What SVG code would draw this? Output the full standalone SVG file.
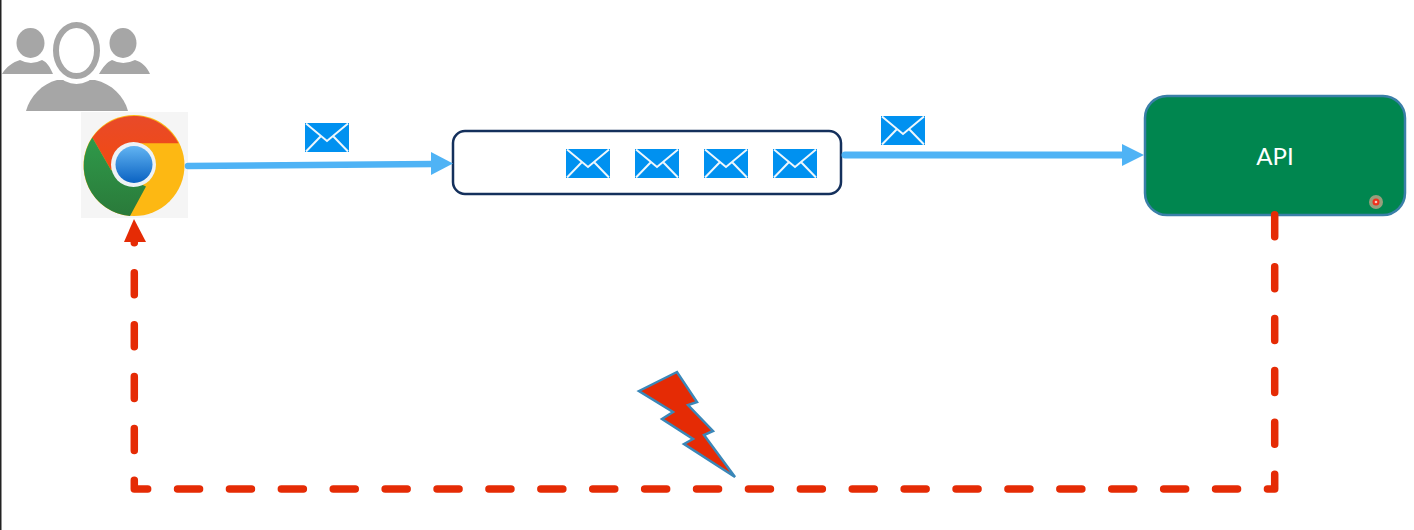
<svg xmlns="http://www.w3.org/2000/svg" width="1414" height="530" viewBox="0 0 1414 530">
<style>
.user{fill:#a6a6a6}
.flow{fill:none;stroke:#4fb3f5;stroke-linecap:round}
.head{fill:#4fb3f5}
.fail{fill:none;stroke:#e52b05;stroke-width:7.500;stroke-linecap:round;stroke-linejoin:round;stroke-dasharray:22 29.900}
</style>
<defs>
<filter id="soft" x="-5%" y="-5%" width="110%" height="110%"><feGaussianBlur stdDeviation="0.700"/></filter>
<linearGradient id="blue" x1="0" y1="0" x2="0" y2="1"><stop offset="0" stop-color="#62b4f2"/><stop offset="1" stop-color="#0a62c2"/></linearGradient>
<linearGradient id="red" x1="0" y1="0" x2="0" y2="1"><stop offset="0" stop-color="#e84a2a"/><stop offset="1" stop-color="#f24a10"/></linearGradient>
<linearGradient id="green" x1="0" y1="0" x2="0" y2="1"><stop offset="0" stop-color="#2f9a4a"/><stop offset="1" stop-color="#2a7a3a"/></linearGradient>
<g id="env">
<rect x="0" y="0" width="44" height="29" fill="#0091f0"/>
<path d="M1 0.500L22 18L43 0.500M1 28.500L16 13M43 28.500L28 13" fill="none" stroke="#eef7fd" stroke-width="2"/>
</g>
</defs>
<rect width="1414" height="530" fill="#fff"/>
<rect x="0" y="0" width="1.500" height="530" fill="#222"/>
<g id="users" filter="url(#soft)">
<ellipse class="user" cx="30.500" cy="43" rx="14" ry="15"/>
<path class="user" d="M2 74C6 67 13 62 20 60Q31 66 42 60C47 62 50 67 53 74Z"/>
<ellipse class="user" cx="123" cy="43" rx="13.500" ry="15"/>
<path class="user" d="M99 74C103 67 107 62 112 60Q123 66 135 60C142 62 147 67 150 74Z"/>
<path class="user" d="M26 111C30 96 42 84 57 80L95 80C112 84 124 96 128 111Z"/>
<ellipse cx="76.500" cy="50.500" rx="23" ry="28" fill="#fff" stroke="#fff" stroke-width="11"/>
<ellipse cx="76.500" cy="50.500" rx="20.500" ry="25.500" fill="#fff" stroke="#a6a6a6" stroke-width="6"/>
</g>
<g id="browser">
<rect x="81" y="112" width="107" height="106" fill="#f5f5f5"/>
<circle cx="134" cy="165.500" r="50.500" fill="#fdb813"/>
<path d="M92.300 137.500A50.500 50.500 0 0 1 178.500 143.300L134 143.300L111 170Z" fill="url(#red)"/>
<path d="M92.300 137.500A50.500 50.500 0 0 0 130 216L146 186.500L111 170Z" fill="url(#green)"/>
<circle cx="133.500" cy="164.500" r="22.500" fill="#eef2f5"/>
<circle cx="134" cy="164.500" r="18.500" fill="url(#blue)"/>
</g>
<g id="queue">
<rect x="453" y="131" width="388" height="63" rx="12" fill="#fff" stroke="#14305c" stroke-width="2.500"/>
<use href="#env" x="566" y="149"/>
<use href="#env" x="635" y="149"/>
<use href="#env" x="704" y="149"/>
<use href="#env" x="773" y="149"/>
</g>
<g id="api">
<rect x="1145" y="96" width="260" height="119" rx="22" fill="#00864f" stroke="#3a7fa8" stroke-width="2.500"/>
<text x="1275" y="165" text-anchor="middle" font-family="Lato, 'Noto Sans', sans-serif" font-size="24" fill="#fff">API</text>
<circle cx="1376" cy="202" r="7" fill="#d9a890" opacity="0.700"/>
<circle cx="1376" cy="202" r="3.500" fill="#f0301c"/>
<circle cx="1376" cy="202" r="1.300" fill="#f6c8c0"/>
</g>
<g id="connectors">
<path class="flow" stroke-width="6.500" d="M188 166L433 164"/>
<path class="head" d="M431 152L453 163.500L431 175Z"/>
<path class="flow" stroke-width="7" d="M845 155L1124 155"/>
<path class="head" d="M1122 144L1144 155L1122 166Z"/>
<path class="fail" d="M1274.700 214.750V489H134.300V233"/>
<path d="M134 219L146 242H124Z" fill="#e52b05"/>
</g>
<use href="#env" x="305" y="123"/>
<use href="#env" x="881" y="116"/>
<path id="bolt" d="M639 391L677 372L697 402L688 405L713 431L704 435L735 477L684 444L693 439L662 419L673 412Z" fill="#e52b05" stroke="#3a87b8" stroke-width="2.500"/>
</svg>
